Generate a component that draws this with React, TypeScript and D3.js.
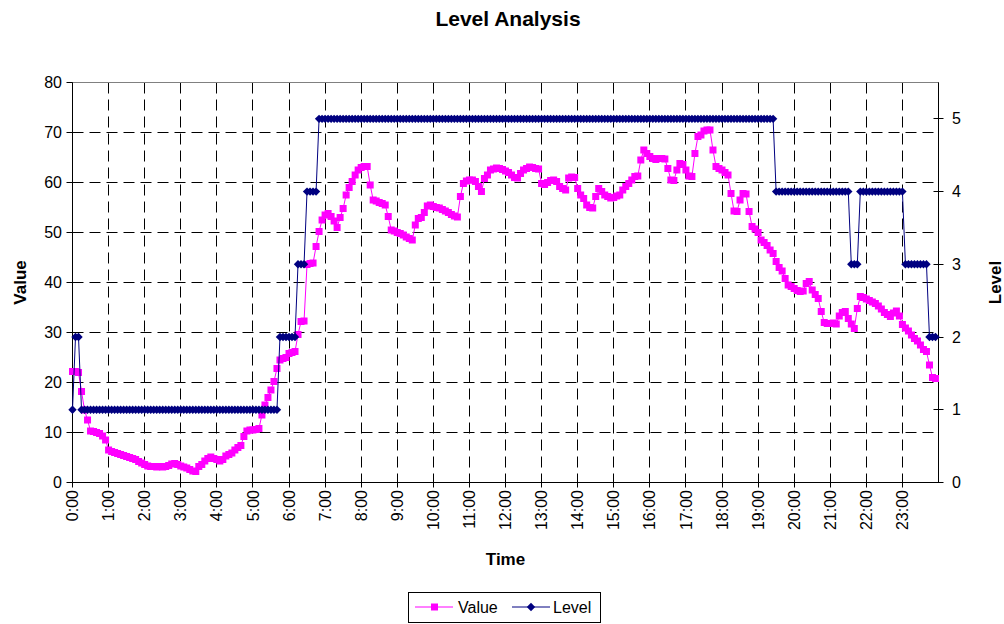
import React from "react";
import * as d3 from "d3";

// Values every 5 minutes from 0:00 to 23:55 (12 per row = one hour)
const valueData: number[] = [
  22.2, 22.2, 22.0, 18.2, 14.5, 12.5, 10.3, 10.2, 10.0, 9.8, 9.3, 8.5,
  6.5, 6.2, 6.0, 5.8, 5.6, 5.4, 5.2, 5.0, 4.8, 4.6, 4.2, 3.9,
  3.6, 3.3, 3.2, 3.2, 3.1, 3.2, 3.1, 3.2, 3.4, 3.7, 3.8, 3.6,
  3.3, 3.1, 2.9, 2.6, 2.3, 2.2, 3.2, 3.6, 4.3, 4.8, 5.1, 4.8,
  4.6, 4.3, 4.6, 5.3, 5.6, 5.9, 6.5, 7.0, 7.4, 9.2, 10.3, 10.5,
  10.5, 10.6, 10.8, 13.5, 15.5, 17.0, 18.5, 20.2, 22.8, 24.5, 24.8, 25.0,
  25.8, 26.0, 26.2, 29.6, 32.2, 32.3, 43.6, 43.8, 43.9, 47.2, 50.2, 52.5,
  53.5, 53.8, 53.2, 52.3, 51.0, 53.0, 54.8, 57.5, 59.0, 60.2, 61.5, 62.5,
  63.0, 63.2, 63.2, 59.5, 56.5, 56.3, 56.0, 55.8, 55.5, 53.2, 50.5, 50.3,
  50.0, 49.8, 49.5, 49.1, 48.8, 48.5, 51.5, 52.8, 53.0, 54.0, 55.3, 55.5,
  55.2, 55.0, 54.9, 54.6, 54.3, 54.0, 53.6, 53.3, 53.1, 57.2, 59.8, 60.3,
  60.5, 60.5, 60.2, 59.2, 58.2, 60.8, 61.5, 62.5, 62.7, 62.9, 62.8, 62.6,
  62.3, 62.0, 61.5, 61.0, 60.9, 61.8, 62.5, 62.8, 63.1, 63.0, 62.8, 62.7,
  59.8, 59.6, 60.0, 60.4, 60.5, 60.2, 59.2, 58.8, 58.5, 60.9, 61.1, 61.0,
  58.8, 57.5, 56.8, 55.5, 55.0, 54.9, 57.2, 58.8, 58.2, 57.5, 57.2, 56.9,
  57.0, 57.3, 57.5, 58.5, 59.2, 59.8, 60.5, 61.2, 61.3, 64.5, 66.5, 65.8,
  65.2, 64.8, 64.6, 64.8, 64.8, 64.7, 62.8, 60.5, 60.4, 62.5, 63.8, 63.6,
  62.5, 61.3, 61.2, 65.8, 69.2, 69.5, 70.3, 70.5, 70.5, 66.5, 63.2, 62.8,
  62.5, 62.0, 61.5, 57.8, 54.3, 54.2, 56.5, 57.8, 57.7, 54.2, 51.2, 50.7,
  50.0, 48.5, 48.0, 47.4, 46.5, 45.8, 44.2, 43.0, 42.3, 40.8, 39.5, 39.2,
  38.8, 38.4, 38.2, 38.3, 39.8, 40.2, 38.5, 37.6, 36.8, 34.2, 32.0, 31.8,
  31.8, 31.9, 31.7, 33.3, 34.0, 34.2, 32.8, 31.7, 30.8, 34.8, 37.2, 37.0,
  36.7, 36.4, 36.1, 35.8, 35.3, 34.7, 34.0, 33.6, 33.2, 33.9, 34.3, 33.3,
  31.6, 30.9, 30.3, 29.5, 28.8, 28.3, 27.5, 26.6, 26.2, 23.5, 21.0, 20.8,
];

const levelData: number[] = [
  1, 2, 2, 1, 1, 1, 1, 1, 1, 1, 1, 1,
  1, 1, 1, 1, 1, 1, 1, 1, 1, 1, 1, 1,
  1, 1, 1, 1, 1, 1, 1, 1, 1, 1, 1, 1,
  1, 1, 1, 1, 1, 1, 1, 1, 1, 1, 1, 1,
  1, 1, 1, 1, 1, 1, 1, 1, 1, 1, 1, 1,
  1, 1, 1, 1, 1, 1, 1, 1, 1, 2, 2, 2,
  2, 2, 2, 3, 3, 3, 4, 4, 4, 4, 5, 5,
  5, 5, 5, 5, 5, 5, 5, 5, 5, 5, 5, 5,
  5, 5, 5, 5, 5, 5, 5, 5, 5, 5, 5, 5,
  5, 5, 5, 5, 5, 5, 5, 5, 5, 5, 5, 5,
  5, 5, 5, 5, 5, 5, 5, 5, 5, 5, 5, 5,
  5, 5, 5, 5, 5, 5, 5, 5, 5, 5, 5, 5,
  5, 5, 5, 5, 5, 5, 5, 5, 5, 5, 5, 5,
  5, 5, 5, 5, 5, 5, 5, 5, 5, 5, 5, 5,
  5, 5, 5, 5, 5, 5, 5, 5, 5, 5, 5, 5,
  5, 5, 5, 5, 5, 5, 5, 5, 5, 5, 5, 5,
  5, 5, 5, 5, 5, 5, 5, 5, 5, 5, 5, 5,
  5, 5, 5, 5, 5, 5, 5, 5, 5, 5, 5, 5,
  5, 5, 5, 5, 5, 5, 5, 5, 5, 5, 5, 5,
  5, 5, 5, 5, 5, 5, 4, 4, 4, 4, 4, 4,
  4, 4, 4, 4, 4, 4, 4, 4, 4, 4, 4, 4,
  4, 4, 4, 4, 4, 4, 4, 3, 3, 3, 4, 4,
  4, 4, 4, 4, 4, 4, 4, 4, 4, 4, 4, 4,
  4, 3, 3, 3, 3, 3, 3, 3, 3, 2, 2, 2,
];

const hourLabels = [
  "0:00", "1:00", "2:00", "3:00", "4:00", "5:00", "6:00", "7:00",
  "8:00", "9:00", "10:00", "11:00", "12:00", "13:00", "14:00", "15:00",
  "16:00", "17:00", "18:00", "19:00", "20:00", "21:00", "22:00", "23:00",
];
const valueTicks = [0, 10, 20, 30, 40, 50, 60, 70, 80];
const levelTicks = [0, 1, 2, 3, 4, 5];
const STEP_MIN = 5;

const FONT = "'Liberation Sans', Arial, Helvetica, sans-serif";
const MAGENTA = "#FF00FF";
const NAVY = "#000080";

function diamondPath(cx: number, cy: number, r: number) {
  return `M${cx},${cy - r}L${cx + r},${cy}L${cx},${cy + r}L${cx - r},${cy}Z`;
}

export default function App() {
  const W = 1004;
  const H = 624;
  const left = 72.5;
  const right = 938.5;
  const top = 82.5;
  const bottom = 482.5;

  const x = d3.scaleLinear().domain([0, 1440]).range([left, right]);
  const yL = d3.scaleLinear().domain([0, 80]).range([bottom, top]);
  const yR = d3.scaleLinear().domain([0, 5.5]).range([bottom, top]);
  const crisp = (v: number) => Math.round(v - 0.5) + 0.5;

  const lineV = d3
    .line<number>()
    .x((_, i) => x(i * STEP_MIN))
    .y((d) => yL(d));
  const lineL = d3
    .line<number>()
    .x((_, i) => x(i * STEP_MIN))
    .y((d) => yR(d));

  const dash = "11,6";
  const SQ = 7;
  const DR = 4.2;

  return (
    <svg
      width={W}
      height={H}
      style={{ position: "absolute", left: 0, top: 0, display: "block", background: "#fff" }}
      fontFamily={FONT}
    >
      <rect x={0} y={0} width={W} height={H} fill="#fff" />
      {/* title */}
      <text x={508} y={26} textAnchor="middle" fontSize={21} fontWeight="bold" fill="#000">
        Level Analysis
      </text>

      {/* gridlines */}
      {valueTicks
        .filter((t) => t > 0 && t < 80)
        .map((t) => (
          <line
            key={"hg" + t}
            x1={left}
            x2={right}
            y1={crisp(yL(t))}
            y2={crisp(yL(t))}
            stroke="#000"
            strokeWidth={1}
            strokeDasharray={dash}
          />
        ))}
      {hourLabels.map((_, h) =>
        h === 0 ? null : (
          <line
            key={"vg" + h}
            x1={crisp(x(h * 60))}
            x2={crisp(x(h * 60))}
            y1={top}
            y2={bottom}
            stroke="#000"
            strokeWidth={1}
            strokeDasharray={dash}
          />
        )
      )}

      {/* plot border */}
      <rect x={left} y={top} width={right - left} height={bottom - top} fill="none" stroke="#808080" strokeWidth={1} />

      {/* axes */}
      <line x1={left} x2={left} y1={top} y2={bottom} stroke="#000" />
      <line x1={left} x2={right} y1={bottom} y2={bottom} stroke="#000" />
      <line x1={right} x2={right} y1={top} y2={bottom} stroke="#000" />

      {/* left ticks */}
      {valueTicks.map((t) => (
        <g key={"lt" + t}>
          <line x1={left - 6} x2={left} y1={crisp(yL(t))} y2={crisp(yL(t))} stroke="#000" />
          <text x={62} y={yL(t)} dy="0.35em" textAnchor="end" fontSize={16} fill="#000">
            {t}
          </text>
        </g>
      ))}

      {/* right ticks */}
      {levelTicks.map((t) => (
        <g key={"rt" + t}>
          <line x1={right - 5} x2={right + 5} y1={crisp(yR(t))} y2={crisp(yR(t))} stroke="#000" />
          <text x={952} y={yR(t)} dy="0.35em" textAnchor="start" fontSize={16} fill="#000">
            {t}
          </text>
        </g>
      ))}

      {/* x ticks */}
      {hourLabels.map((lab, h) => {
        const px = x(h * 60);
        return (
          <g key={"xt" + h}>
            <line x1={crisp(px)} x2={crisp(px)} y1={bottom} y2={bottom + 5} stroke="#000" />
            <text
              transform={`translate(${px},490) rotate(-90)`}
              dy="0.35em"
              textAnchor="end"
              fontSize={16}
              fill="#000"
            >
              {lab}
            </text>
          </g>
        );
      })}

      {/* axis titles */}
      <text transform={`translate(26,${(top + bottom) / 2}) rotate(-90)`} textAnchor="middle" fontSize={17} fontWeight="bold">
        Value
      </text>
      <text transform={`translate(1001,${(top + bottom) / 2}) rotate(-90)`} textAnchor="middle" fontSize={17} fontWeight="bold">
        Level
      </text>
      <text x={(left + right) / 2} y={565} textAnchor="middle" fontSize={17} fontWeight="bold">
        Time
      </text>

      {/* Value series */}
      <path d={lineV(valueData) || ""} fill="none" stroke={MAGENTA} strokeWidth={1} />
      {valueData.map((v, i) => (
        <rect key={"vm" + i} x={x(i * STEP_MIN) - SQ / 2} y={yL(v) - SQ / 2} width={SQ} height={SQ} fill={MAGENTA} />
      ))}

      {/* Level series */}
      <path d={lineL(levelData) || ""} fill="none" stroke={NAVY} strokeWidth={1} />
      {levelData.map((v, i) => (
        <path key={"lm" + i} d={diamondPath(x(i * STEP_MIN), yR(v), DR)} fill={NAVY} />
      ))}

      {/* legend */}
      <rect x={408.5} y={592.5} width={192} height={30} fill="#fff" stroke="#000" strokeWidth={1} />
      <line x1={415} x2={453} y1={607} y2={607} stroke={MAGENTA} />
      <rect x={431} y={603.5} width={7} height={7} fill={MAGENTA} />
      <text x={458} y={612.5} fontSize={16}>Value</text>
      <line x1={512} x2={550} y1={607} y2={607} stroke={NAVY} />
      <path d={diamondPath(531, 607, DR)} fill={NAVY} />
      <text x={553} y={612.5} fontSize={16}>Level</text>
    </svg>
  );
}
